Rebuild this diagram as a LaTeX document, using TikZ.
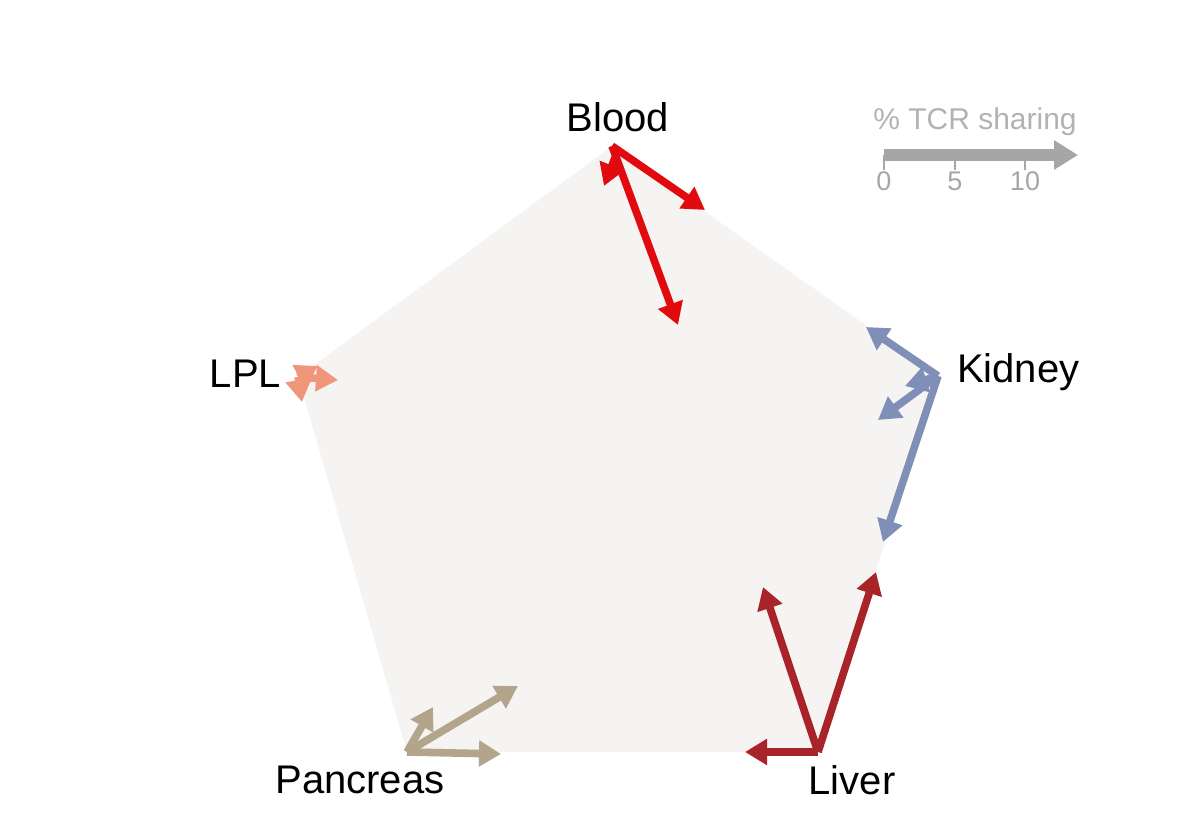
\documentclass[tikz,border=0pt]{standalone}
\usepackage{fontspec}
\setmainfont{Liberation Sans}
\usetikzlibrary{arrows.meta}
\definecolor{bloodred}{HTML}{E00A0F}
\definecolor{liverred}{HTML}{A82428}
\definecolor{kidneyblue}{HTML}{7F8FB8}
\definecolor{pancbrown}{HTML}{B3A48C}
\definecolor{lplsalmon}{HTML}{F0967A}
\definecolor{pentafill}{HTML}{F5F4F2}
\tikzset{
  share/.style={line width=3.8pt, -{Triangle[length=11pt,width=12.5pt]}},
  organ/.style={font=\fontsize{20}{23}\selectfont},
}
\begin{document}
\begin{tikzpicture}[x=0.5pt,y=-0.5pt]
  \useasboundingbox (0,0) rectangle (1191,835);
  % vertices
  \coordinate (B) at (612,146);
  \coordinate (K) at (938,376);
  \coordinate (Li) at (818,752);
  \coordinate (P) at (407,752);
  \coordinate (L) at (298,377);
  \fill[pentafill] (B) -- (K) -- (Li) -- (P) -- (L) -- cycle;
  % labels
  \node[organ] (blood) at (618,117) {Blood};
  \node[organ, anchor=west] (kidney) at (950,372) {Kidney};
  \node[organ] (liver) at (852,780) {Liver};
  \node[organ] (pancreas) at (360,780) {Pancreas};
  \node[organ, anchor=east] (lpl) at (288,374) {LPL};
  % Blood
  \draw[share, bloodred] (B) -- (705,210) coordinate (b1);
  \draw[share, bloodred] (B) -- (678,325) coordinate (b2);
  \draw[share, bloodred] (618,150) -- (604,186) coordinate (b3);
  % Kidney
  \draw[share, kidneyblue] (K) -- (866,327) coordinate (k1);
  \draw[share, kidneyblue] (K) -- (878,420) coordinate (k2);
  \draw[share, kidneyblue] (K) -- (883,542) coordinate (k3);
  \draw[share, kidneyblue] (K) -- (905,386) coordinate (k4);
  % Liver
  \draw[share, liverred] (Li) -- (763,587) coordinate (v1);
  \draw[share, liverred] (Li) -- (876,572) coordinate (v2);
  \draw[share, liverred] (Li) -- (745,752) coordinate (v3);
  % Pancreas
  \draw[share, pancbrown] (P) -- (518,686) coordinate (p1);
  \draw[share, pancbrown] (P) -- (501,754) coordinate (p2);
  \draw[share, pancbrown] (P) -- (433,707) coordinate (p3);
  % LPL
  \draw[share, lplsalmon] (L) -- (338,380) coordinate (l1);
  \draw[share, lplsalmon] (L) -- (302,402) coordinate (l2);
  \draw[share, lplsalmon] (L) -- (318,366) coordinate (l3);
  % legend
  \coordinate (s0) at (884,155);
  \draw[line width=6pt, gray!70, -{Triangle[length=12pt,width=14pt]}] (s0) -- (1078,155) coordinate (s1);
  \foreach \x/\t in {884/0,955/5,1025/10}
    \draw[gray!70, line width=1pt] (\x,155) -- (\x,170) node[below=-3pt, font=\fontsize{13.5}{15}\selectfont, text=gray!70] {\t};
  \node[font=\fontsize{15}{17}\selectfont, text=gray!60] (legend) at (975,122) {\% TCR sharing};
\end{tikzpicture}
\end{document}
